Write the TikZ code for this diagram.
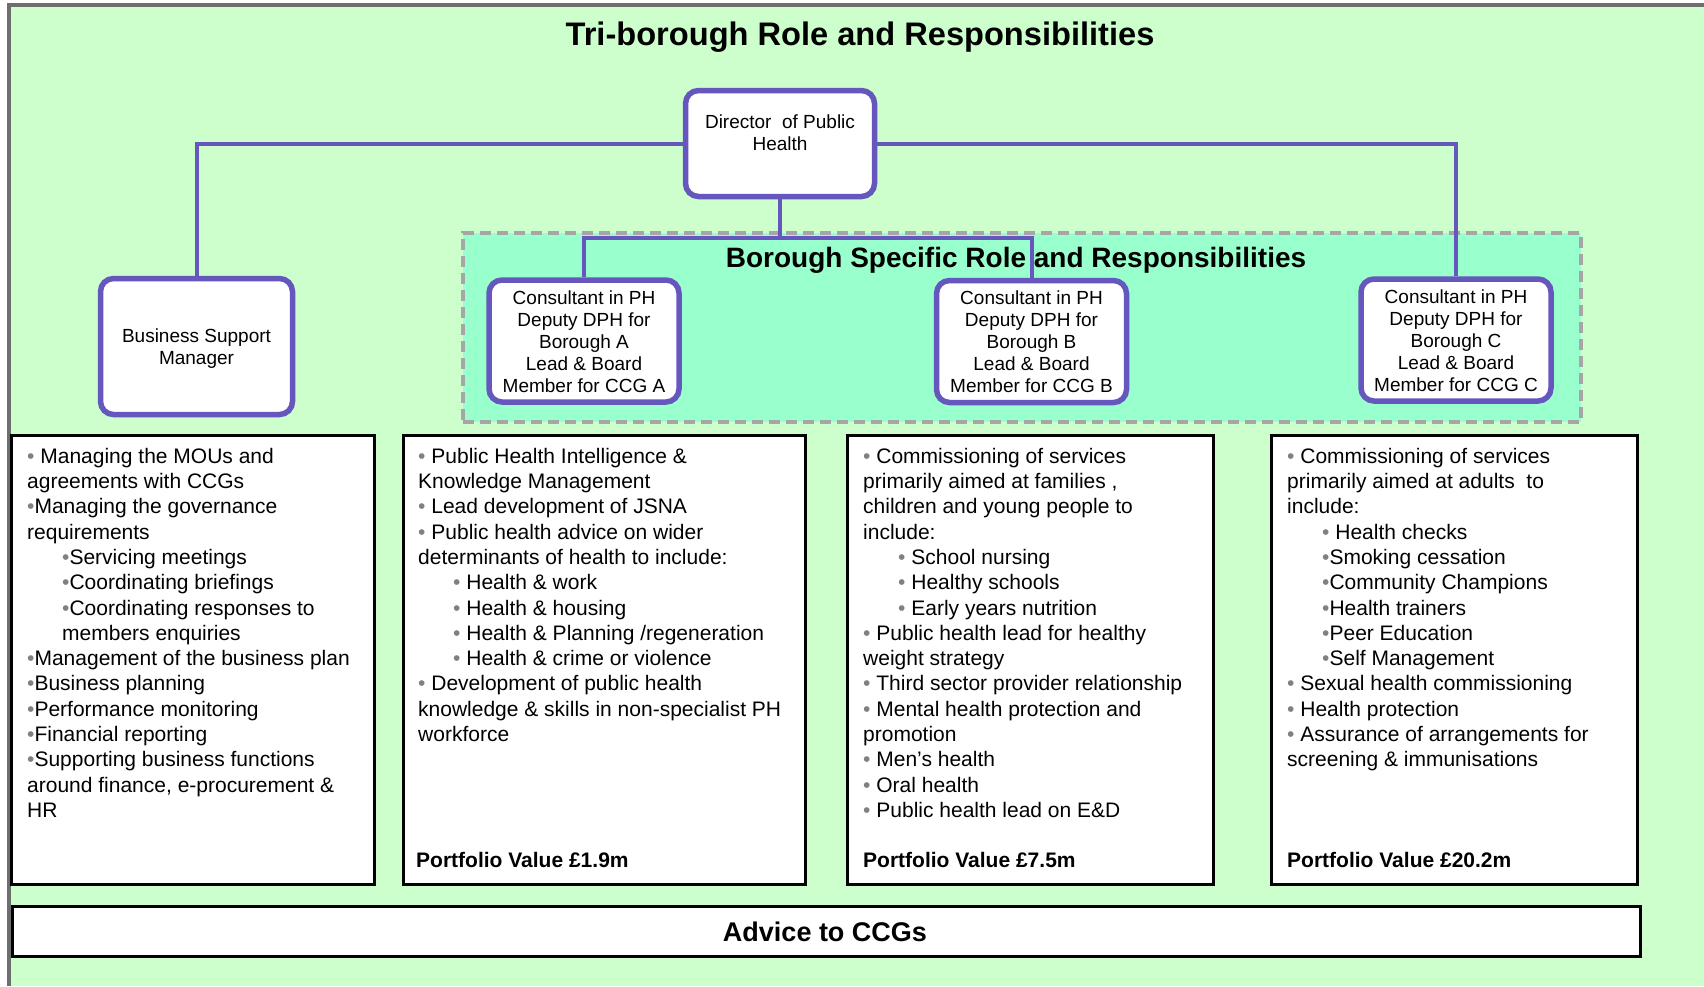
\documentclass[tikz,border=0pt]{standalone}
\usepackage{fontspec}
\setmainfont{Liberation Sans}
\definecolor{bggreen}{RGB}{204,255,204}
\definecolor{mint}{RGB}{153,255,204}
\definecolor{purp}{RGB}{102,87,190}
\definecolor{dashgrey}{RGB}{166,166,166}
\definecolor{framegrey}{RGB}{110,110,110}
\definecolor{bgrey}{RGB}{128,128,128}
\newcommand\bu{{\color{bgrey}\textbullet}}
\newcommand\ind{\hspace*{35pt}}
\begin{document}
\begin{tikzpicture}[x=1pt,y=-1pt,
 orgbox/.style={draw=purp, line width=5.5pt, fill=white, rounded corners=13pt, inner sep=0pt},
 orgtext/.style={align=center, font=\fontsize{19}{22}\selectfont, inner sep=0pt},
 conn/.style={draw=purp, line width=4pt},
 listbox/.style={draw=black, line width=2.5pt, fill=white, inner sep=0pt, anchor=north west},
 shadowbox/.style={fill=bgrey, draw=none, inner sep=0pt, anchor=north west},
 listtext/.style={align=left, anchor=north west, inner sep=0pt, font=\fontsize{21}{25.3}\selectfont},
 portfolio/.style={anchor=base west, inner sep=0pt, font=\bfseries\fontsize{21}{25}\selectfont},
]
\useasboundingbox (0,0) rectangle (1704,986);
\fill[white] (0,0) rectangle (1704,986);
\fill[bggreen] (9,5) rectangle (1704,986);
\draw[framegrey, line width=4pt] (9.3,986) -- (9.3,4.7) -- (1704,4.7);

% titles
\node[anchor=base, inner sep=0pt, font=\bfseries\fontsize{32.6}{36}\selectfont] (title) at (860,45.5) {Tri-borough Role and Responsibilities};

% borough region
\node[draw=dashgrey, line width=4pt, dash pattern=on 11pt off 6pt, fill=mint, minimum width=1118pt, minimum height=189pt, anchor=north west, inner sep=0pt] (borough) at (461,231) {};

% org boxes
\node[orgbox, minimum width=189pt, minimum height=106pt] (dph) at (780,143.5) {};
\node[orgtext] (dphtext) at (780,133) {Director\ \ of Public\\Health};
\node[orgbox, minimum width=192pt, minimum height=136pt] (bsm) at (196.5,346.5) {};
\node[orgtext] (bsmtext) at (196.5,348.5) {Business Support\\Manager};
\node[orgbox, minimum width=190pt, minimum height=122pt] (consA) at (584,341) {};
\node[orgtext] (consAtext) at (584,342) {Consultant in PH\\Deputy DPH for\\Borough A\\Lead \& Board\\Member for CCG A};
\node[orgbox, minimum width=190pt, minimum height=122pt] (consB) at (1031.5,341.5) {};
\node[orgtext] (consBtext) at (1031.5,342) {Consultant in PH\\Deputy DPH for\\Borough B\\Lead \& Board\\Member for CCG B};
\node[orgbox, minimum width=190pt, minimum height=122pt] (consC) at (1456,340) {};
\node[orgtext] (consCtext) at (1456,341) {Consultant in PH\\Deputy DPH for\\Borough C\\Lead \& Board\\Member for CCG C};

% connectors
\coordinate (hub) at (780,238);
\draw[conn] (dph.west) -| (bsm.north);
\draw[conn] (dph.east) -| (consC.north);
\draw[conn] (dph.south) -- (hub);
\draw[conn] (consA.north) |- (hub) -| (consB.north);

\node[anchor=base, inner sep=0pt, font=\bfseries\fontsize{28}{32}\selectfont] (btitle) at (1016,267) {Borough Specific Role and Responsibilities};

% list boxes
\node[shadowbox, minimum width=363pt, minimum height=449pt] (sh1) at (13,437) {};
\node[listbox, minimum width=363pt, minimum height=449pt] (box1) at (10,434) {};
\node[shadowbox, minimum width=402pt, minimum height=449pt] (sh2) at (405,437) {};
\node[listbox, minimum width=402pt, minimum height=449pt] (box2) at (402,434) {};
\node[shadowbox, minimum width=366pt, minimum height=449pt] (sh3) at (849,437) {};
\node[listbox, minimum width=366pt, minimum height=449pt] (box3) at (846,434) {};
\node[shadowbox, minimum width=366pt, minimum height=449pt] (sh4) at (1273,437) {};
\node[listbox, minimum width=366pt, minimum height=449pt] (box4) at (1270,434) {};
\node[shadowbox, minimum width=1628pt, minimum height=50pt] (sh5) at (14,908) {};
\node[listbox, line width=3pt, minimum width=1628pt, minimum height=50pt] (advice) at (11,905) {};
\node[anchor=base, inner sep=0pt, font=\bfseries\fontsize{27}{30}\selectfont] (advicetext) at (825,941) {Advice to CCGs};

\node[listtext] (list1) at (27,445.3) {\strut\bu\ Managing the MOUs and\\
agreements with CCGs\\
\bu Managing the governance\\
requirements\\
\ind\bu Servicing meetings\\
\ind\bu Coordinating briefings\\
\ind\bu Coordinating responses to\\
\ind members enquiries\\
\bu Management of the business plan\\
\bu Business planning\\
\bu Performance monitoring\\
\bu Financial reporting\\
\bu Supporting business functions\\
around finance, e-procurement \&\\
HR};

\node[listtext] (list2) at (418,445.3) {\strut\bu\ Public Health Intelligence \&\\
Knowledge Management\\
\bu\ Lead development of JSNA\\
\bu\ Public health advice on wider\\
determinants of health to include:\\
\ind\bu\ Health \& work\\
\ind\bu\ Health \& housing\\
\ind\bu\ Health \& Planning /regeneration\\
\ind\bu\ Health \& crime or violence\\
\bu\ Development of public health\\
knowledge \& skills in non-specialist PH\\
workforce};

\node[listtext] (list3) at (863,445.3) {\strut\bu\ Commissioning of services\\
primarily aimed at families ,\\
children and young people to\\
include:\\
\ind\bu\ School nursing\\
\ind\bu\ Healthy schools\\
\ind\bu\ Early years nutrition\\
\bu\ Public health lead for healthy\\
weight strategy\\
\bu\ Third sector provider relationship\\
\bu\ Mental health protection and\\
promotion\\
\bu\ Men’s health\\
\bu\ Oral health\\
\bu\ Public health lead on E\&D};

\node[listtext] (list4) at (1287,445.3) {\strut\bu\ Commissioning of services\\
primarily aimed at adults\ \ to\\
include:\\
\ind\bu\ Health checks\\
\ind\bu Smoking cessation\\
\ind\bu Community Champions\\
\ind\bu Health trainers\\
\ind\bu Peer Education\\
\ind\bu Self Management\\
\bu\ Sexual health commissioning\\
\bu\ Health protection\\
\bu\ Assurance of arrangements for\\
screening \& immunisations};

\node[portfolio] (pv2) at (416,867) {Portfolio Value £1.9m};
\node[portfolio] (pv3) at (863,867) {Portfolio Value £7.5m};
\node[portfolio] (pv4) at (1287,867) {Portfolio Value £20.2m};
\end{tikzpicture}
\end{document}
